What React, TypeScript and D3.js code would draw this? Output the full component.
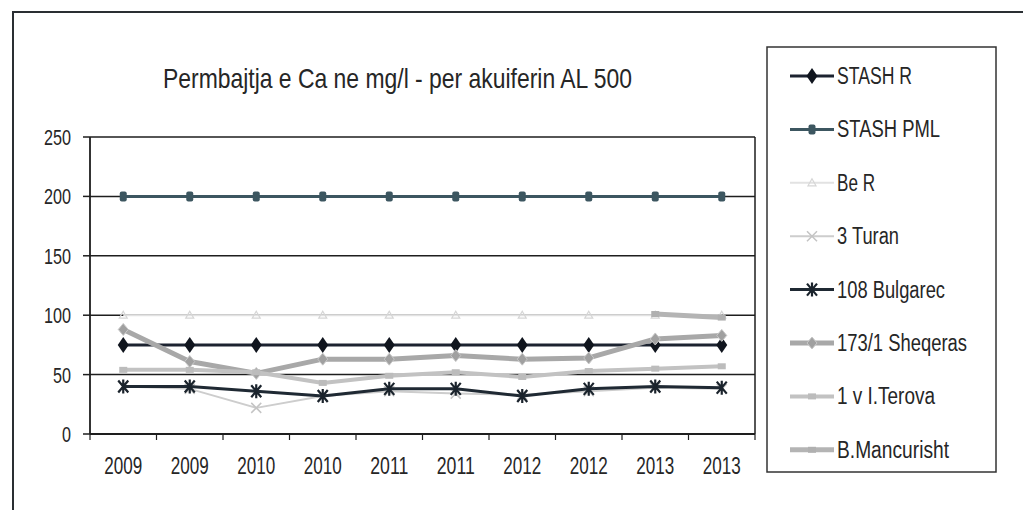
import React from "react";
import * as d3 from "d3";

const categories = ["2009", "2009", "2010", "2010", "2011", "2011", "2012", "2012", "2013", "2013"];
const yTicks = [0, 50, 100, 150, 200, 250];
const title = "Permbajtja  e Ca ne mg/l - per akuiferin AL 500";

const stashR = [75, 75, 75, 75, 75, 75, 75, 75, 75, 75];
const stashPML = [200, 200, 200, 200, 200, 200, 200, 200, 200, 200];
const beR = [100, 100, 100, 100, 100, 100, 100, 100, 100, 100];
const turan = [40, 38, 22, 32, 36, 34, 33, 36, 39, 38];
const bulgarec = [40, 40, 36, 32, 38, 38, 32, 38, 40, 39];
const sheqeras = [88, 61, 51, 63, 63, 66, 63, 64, 80, 83];
const terova = [54, 54, 52, 43, 49, 52, 48, 53, 55, 57];
const mancurisht: (number | null)[] = [null, null, null, null, null, null, null, null, 101, 98];

type Marker = "diamond" | "square" | "triangle" | "x" | "star" | "sdiamond" | "dash" | "none";
interface Series { name: string; values: (number | null)[]; color: string; width: number; marker: Marker; mcolor: string; textLen: number; }

const series: Series[] = [
  { name: "STASH R", values: stashR, color: "#1c2330", width: 3, marker: "diamond", mcolor: "#10151e", textLen: 75 },
  { name: "STASH PML", values: stashPML, color: "#3c5660", width: 3, marker: "square", mcolor: "#3c5660", textLen: 103 },
  { name: "Be R", values: beR, color: "#e2e2e2", width: 2, marker: "triangle", mcolor: "#d6d6d6", textLen: 38 },
  { name: "3 Turan", values: turan, color: "#cdcdcd", width: 2, marker: "x", mcolor: "#c4c4c4", textLen: 62 },
  { name: "108 Bulgarec", values: bulgarec, color: "#1f2933", width: 3, marker: "star", mcolor: "#1a232c", textLen: 108 },
  { name: "173/1 Sheqeras", values: sheqeras, color: "#a8a8a8", width: 5, marker: "sdiamond", mcolor: "#a0a0a0", textLen: 130 },
  { name: "1 v I.Terova", values: terova, color: "#c2c2c2", width: 4, marker: "dash", mcolor: "#bcbcbc", textLen: 98 },
  { name: "B.Mancurisht", values: mancurisht, color: "#b4b4b4", width: 5, marker: "dash", mcolor: "#b0b0b0", textLen: 112 },
];

const plot = { left: 90, right: 755, top: 137, bottom: 434 };
const FONT = "'Liberation Sans', Arial, sans-serif";
const TXT = "#262626";

function MarkerShape({ m, x, y, color }: { m: Marker; x: number; y: number; color: string }) {
  switch (m) {
    case "diamond":
      return <path d={`M${x},${y - 8}L${x + 5.5},${y}L${x},${y + 8}L${x - 5.5},${y}Z`} fill={color} />;
    case "square":
      return <rect x={x - 3.5} y={y - 5} width={7} height={10} rx={2} fill={color} />;
    case "triangle":
      return <path d={`M${x},${y - 4}L${x + 4},${y + 3}L${x - 4},${y + 3}Z`} fill="none" stroke={color} strokeWidth={1.2} />;
    case "x":
      return <path d={`M${x - 5},${y - 5}L${x + 5},${y + 5}M${x + 5},${y - 5}L${x - 5},${y + 5}`} stroke={color} strokeWidth={1.5} />;
    case "star":
      return <path d={`M${x - 5},${y - 6}L${x + 5},${y + 6}M${x + 5},${y - 6}L${x - 5},${y + 6}M${x},${y - 7}L${x},${y + 7}`} stroke={color} strokeWidth={2.2} />;
    case "sdiamond":
      return <path d={`M${x},${y - 6}L${x + 5},${y}L${x},${y + 6}L${x - 5},${y}Z`} fill={color} stroke="#c8c8c8" strokeWidth={1} />;
    case "dash":
      return <rect x={x - 4} y={y - 3} width={8} height={6} fill={color} />;
    default:
      return null;
  }
}

export default function App() {
  const x = d3.scaleBand<number>().domain(d3.range(categories.length)).range([plot.left, plot.right]);
  const y = d3.scaleLinear().domain([0, 250]).range([plot.bottom, plot.top]);
  const cx = (i: number) => (x(i) as number) + x.bandwidth() / 2;
  const line = d3.line<number | null>()
    .defined((d) => d !== null)
    .x((_, i) => cx(i))
    .y((d) => y(d as number));

  const legend = { x: 767, y: 47, w: 229, h: 425, first: 76, step: 53.4 };

  return (
    <svg width={1023} height={510} style={{ position: "absolute", left: 0, top: 0, background: "#fff" }} fontFamily={FONT}>
      <rect x={0} y={0} width={1023} height={510} fill="#fff" />
      {/* outer frame */}
      <path d="M13,510L13,12L1023,12" fill="none" stroke="#2a2f33" strokeWidth={2} />

      {/* title */}
      <text x={163} y={88} fontSize={28} fill={TXT} textLength={469} lengthAdjust="spacingAndGlyphs">{title}</text>

      {/* gridlines */}
      {yTicks.filter((t) => t > 0).map((t) => (
        <line key={t} x1={plot.left} x2={plot.right} y1={y(t)} y2={y(t)} stroke="#1e1e1e" strokeWidth={1.5} />
      ))}
      <line x1={plot.right} x2={plot.right} y1={plot.top} y2={plot.bottom} stroke="#1e1e1e" strokeWidth={1.5} />

      {/* y axis */}
      <line x1={plot.left} x2={plot.left} y1={plot.top} y2={plot.bottom} stroke="#1e1e1e" strokeWidth={1.8} />
      {yTicks.map((t) => (
        <g key={t}>
          <line x1={plot.left - 7} x2={plot.left} y1={y(t)} y2={y(t)} stroke="#1e1e1e" strokeWidth={1.5} />
          <text x={71} y={y(t) + 8} fontSize={22} fill={TXT} textAnchor="end" textLength={t === 0 ? 9 : t < 100 ? 18 : 27} lengthAdjust="spacingAndGlyphs">{t}</text>
        </g>
      ))}

      {/* x axis */}
      <line x1={plot.left} x2={plot.right} y1={plot.bottom} y2={plot.bottom} stroke="#1e1e1e" strokeWidth={1.8} />
      {d3.range(categories.length + 1).map((i) => {
        const xx = plot.left + i * x.bandwidth();
        return <line key={i} x1={xx} x2={xx} y1={plot.bottom} y2={plot.bottom + 6} stroke="#1e1e1e" strokeWidth={1.2} />;
      })}
      {categories.map((c, i) => (
        <text key={i} x={cx(i)} y={474} fontSize={23} fill={TXT} textAnchor="middle" textLength={38} lengthAdjust="spacingAndGlyphs">{c}</text>
      ))}

      {/* series */}
      {series.map((s) => (
        <g key={s.name}>
          <path d={line(s.values) || ""} fill="none" stroke={s.color} strokeWidth={s.width} strokeLinejoin="round" />
          {s.values.map((v, i) => v === null ? null : (
            <MarkerShape key={i} m={s.marker} x={cx(i)} y={y(v)} color={s.mcolor} />
          ))}
        </g>
      ))}

      {/* legend */}
      <rect x={legend.x} y={legend.y} width={legend.w} height={legend.h} fill="none" stroke="#333" strokeWidth={1.5} />
      {series.map((s, i) => {
        const ly = legend.first + i * legend.step;
        return (
          <g key={s.name}>
            <line x1={790} x2={834} y1={ly} y2={ly} stroke={s.color} strokeWidth={s.width} />
            <MarkerShape m={s.marker} x={812} y={ly} color={s.mcolor} />
            <text x={837} y={ly + 8} fontSize={23} fill={TXT} textLength={s.textLen} lengthAdjust="spacingAndGlyphs">{s.name}</text>
          </g>
        );
      })}
    </svg>
  );
}
